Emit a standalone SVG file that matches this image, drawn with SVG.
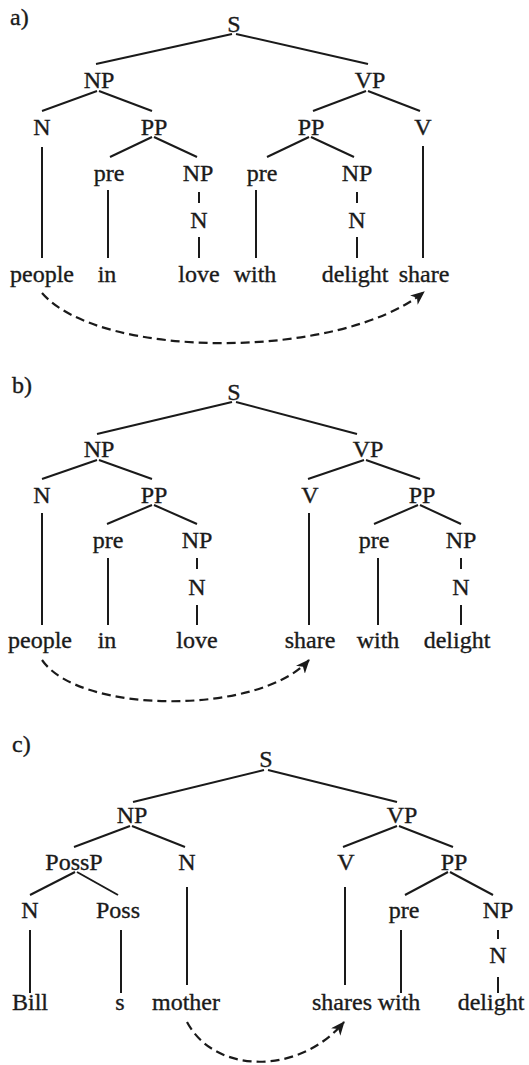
<svg xmlns="http://www.w3.org/2000/svg" width="529" height="1065" viewBox="0 0 529 1065">
<style>
text{font-family:"Liberation Serif","Times New Roman",serif;font-size:24px;fill:#1a1a1a;stroke:#1a1a1a;stroke-width:0.35;text-anchor:middle}
text.lbl{text-anchor:start}
.e line{stroke:#1a1a1a;stroke-width:2;fill:none}
.mv{stroke:#1a1a1a;stroke-width:2.2;fill:none;stroke-dasharray:9 5}
</style>
<defs>
<marker id="ah" markerUnits="userSpaceOnUse" markerWidth="16" markerHeight="14" refX="13" refY="6" orient="auto">
<path d="M0,0 L14,6 L0,12 L4,6 z" fill="#1a1a1a"/>
</marker>
</defs>
<rect width="529" height="1065" fill="#fff"/>
<!-- Tree a -->
<g id="tree-a">
<text class="lbl" x="10" y="25">a)</text>
<g id="a-S"><text x="234" y="32">S</text></g>
<g id="a-NP"><text x="99" y="88">NP</text></g>
<g id="a-VP"><text x="370" y="88">VP</text></g>
<g id="a-N"><text x="42" y="135">N</text></g>
<g id="a-PP1"><text x="154" y="135">PP</text></g>
<g id="a-PP2"><text x="311" y="135">PP</text></g>
<g id="a-V"><text x="423" y="135">V</text></g>
<g id="a-pre1"><text x="109" y="181">pre</text></g>
<g id="a-NP1"><text x="198" y="181">NP</text></g>
<g id="a-pre2"><text x="262" y="181">pre</text></g>
<g id="a-NP2"><text x="357" y="181">NP</text></g>
<g id="a-N1"><text x="199" y="228">N</text></g>
<g id="a-N2"><text x="357" y="228">N</text></g>
<g id="a-people"><text x="42" y="282">people</text></g>
<g id="a-in"><text x="107" y="282">in</text></g>
<g id="a-love"><text x="199" y="282">love</text></g>
<g id="a-with"><text x="255" y="282">with</text></g>
<g id="a-delight"><text x="355" y="282">delight</text></g>
<g id="a-share"><text x="424" y="282">share</text></g>
</g>
<g id="edges-a" class="e">
<line x1="232" y1="34" x2="96" y2="64"/>
<line x1="236" y1="34" x2="368" y2="64"/>
<line x1="97" y1="91" x2="42" y2="111"/>
<line x1="99" y1="91" x2="152" y2="111"/>
<line x1="366" y1="91" x2="313" y2="111"/>
<line x1="368" y1="91" x2="420" y2="111"/>
<line x1="152" y1="137" x2="110" y2="157"/>
<line x1="154" y1="137" x2="197" y2="157"/>
<line x1="309" y1="137" x2="267" y2="157"/>
<line x1="311" y1="137" x2="354" y2="157"/>
<line x1="42" y1="147" x2="42" y2="258"/>
<line x1="423" y1="146" x2="423" y2="258"/>
<line x1="108" y1="190" x2="108" y2="258"/>
<line x1="199" y1="192" x2="199" y2="203"/>
<line x1="199" y1="237" x2="199" y2="258"/>
<line x1="256" y1="190" x2="256" y2="258"/>
<line x1="357" y1="192" x2="357" y2="203"/>
<line x1="357" y1="237" x2="357" y2="258"/>
<path class="mv" d="M42,293 C100,360 340,360 424,292" marker-end="url(#ah)"/>
</g>
<!-- Tree b -->
<g id="tree-b">
<text class="lbl" x="12" y="393">b)</text>
<g id="b-S"><text x="234" y="400">S</text></g>
<g id="b-NP"><text x="99" y="457">NP</text></g>
<g id="b-VP"><text x="368" y="457">VP</text></g>
<g id="b-N"><text x="42" y="503">N</text></g>
<g id="b-PP1"><text x="154" y="503">PP</text></g>
<g id="b-V"><text x="310" y="503">V</text></g>
<g id="b-PP2"><text x="422" y="503">PP</text></g>
<g id="b-pre1"><text x="108" y="548">pre</text></g>
<g id="b-NP1"><text x="197" y="548">NP</text></g>
<g id="b-pre2"><text x="374" y="548">pre</text></g>
<g id="b-NP2"><text x="461" y="548">NP</text></g>
<g id="b-N1"><text x="197" y="595">N</text></g>
<g id="b-N2"><text x="461" y="595">N</text></g>
<g id="b-people"><text x="40" y="648">people</text></g>
<g id="b-in"><text x="107" y="648">in</text></g>
<g id="b-love"><text x="197" y="648">love</text></g>
<g id="b-share"><text x="310" y="648">share</text></g>
<g id="b-with"><text x="378" y="648">with</text></g>
<g id="b-delight"><text x="457" y="648">delight</text></g>
</g>
<g id="edges-b" class="e">
<line x1="232" y1="402" x2="97" y2="434"/>
<line x1="236" y1="402" x2="357" y2="434"/>
<line x1="97" y1="460" x2="42" y2="479"/>
<line x1="99" y1="460" x2="152" y2="479"/>
<line x1="364" y1="460" x2="308" y2="479"/>
<line x1="366" y1="460" x2="420" y2="479"/>
<line x1="152" y1="505" x2="107" y2="524"/>
<line x1="154" y1="505" x2="197" y2="524"/>
<line x1="418" y1="505" x2="374" y2="524"/>
<line x1="420" y1="505" x2="461" y2="524"/>
<line x1="42" y1="513" x2="42" y2="625"/>
<line x1="309" y1="513" x2="309" y2="625"/>
<line x1="108" y1="558" x2="108" y2="625"/>
<line x1="197" y1="558" x2="197" y2="569"/>
<line x1="197" y1="605" x2="197" y2="625"/>
<line x1="378" y1="558" x2="378" y2="625"/>
<line x1="461" y1="558" x2="461" y2="569"/>
<line x1="461" y1="605" x2="461" y2="625"/>
<path class="mv" d="M42,660 C80,715 260,715 309,660" marker-end="url(#ah)"/>
</g>
<!-- Tree c -->
<g id="tree-c">
<text class="lbl" x="12" y="752">c)</text>
<g id="c-S"><text x="266" y="767">S</text></g>
<g id="c-NP"><text x="132" y="823">NP</text></g>
<g id="c-VP"><text x="402" y="823">VP</text></g>
<g id="c-PossP"><text x="74" y="870">PossP</text></g>
<g id="c-N"><text x="187" y="870">N</text></g>
<g id="c-V"><text x="346" y="870">V</text></g>
<g id="c-PP"><text x="454" y="870">PP</text></g>
<g id="c-N1"><text x="30" y="918">N</text></g>
<g id="c-Poss"><text x="118" y="918">Poss</text></g>
<g id="c-pre"><text x="404" y="918">pre</text></g>
<g id="c-NP1"><text x="498" y="918">NP</text></g>
<g id="c-N2"><text x="498" y="963">N</text></g>
<g id="c-Bill"><text x="30" y="1010">Bill</text></g>
<g id="c-s"><text x="120" y="1010">s</text></g>
<g id="c-mother"><text x="186" y="1010">mother</text></g>
<g id="c-shares"><text x="342" y="1010">shares</text></g>
<g id="c-with"><text x="399" y="1010">with</text></g>
<g id="c-delight"><text x="491" y="1010">delight</text></g>
</g>
<g id="edges-c" class="e">
<line x1="264" y1="770" x2="133" y2="802"/>
<line x1="268" y1="770" x2="397" y2="802"/>
<line x1="130" y1="826" x2="74" y2="847"/>
<line x1="132" y1="826" x2="185" y2="847"/>
<line x1="397" y1="826" x2="343" y2="847"/>
<line x1="399" y1="826" x2="453" y2="847"/>
<line x1="75" y1="872" x2="30" y2="895"/>
<line x1="77" y1="872" x2="118" y2="895"/>
<line x1="448" y1="872" x2="405" y2="895"/>
<line x1="450" y1="872" x2="493" y2="895"/>
<line x1="187" y1="887" x2="187" y2="985"/>
<line x1="345" y1="887" x2="345" y2="985"/>
<line x1="30" y1="930" x2="30" y2="993"/>
<line x1="121" y1="930" x2="121" y2="993"/>
<line x1="401" y1="930" x2="401" y2="993"/>
<line x1="498" y1="930" x2="498" y2="939"/>
<line x1="498" y1="977" x2="498" y2="993"/>
<path class="mv" d="M187,1022 C215,1075 300,1075 344,1022" marker-end="url(#ah)"/>
</g>
</svg>
